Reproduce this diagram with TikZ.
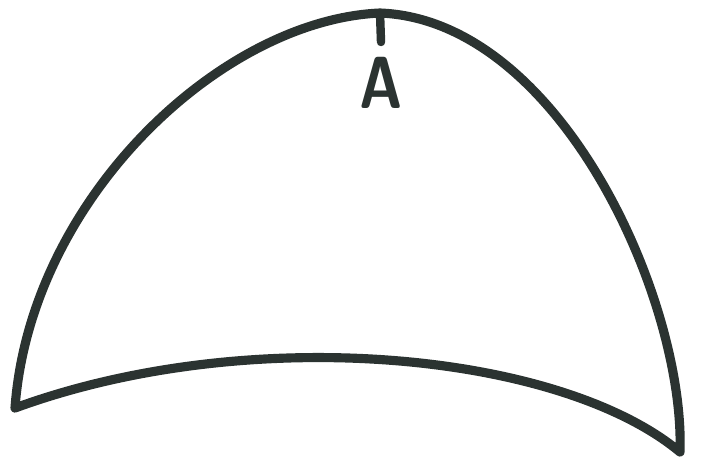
\documentclass[tikz,border=0pt]{standalone}
\usepackage{tikz}
\usetikzlibrary{positioning}
\definecolor{ink}{HTML}{2B3331}
\tikzset{
  outline/.style={draw=ink,line width=2.6pt,line join=round,line cap=round},
  tick/.style={draw=ink,line width=2.4pt,line cap=round},
  tag/.style={text=ink,font=\sffamily\bfseries\fontsize{21}{21}\selectfont,inner sep=0pt}
}
\begin{document}
\begin{tikzpicture}[x=0.01cm,y=-0.01cm]
\useasboundingbox (0,0) rectangle (704,469);
\coordinate (left) at (15,408);
\coordinate (top) at (380,13);
\coordinate (right) at (680,452);
\coordinate (tickend) at (381,42);
\draw[outline] (left) .. controls (30,200) and (220,20) .. (top)
  .. controls (560,20) and (685,300) .. (right)
  .. controls (560,352) and (250,322) .. cycle;
\draw[tick] (top) -- (tickend);
\node[tag,below=4pt of tickend,xscale=0.8] (A) {A};
\end{tikzpicture}
\end{document}
